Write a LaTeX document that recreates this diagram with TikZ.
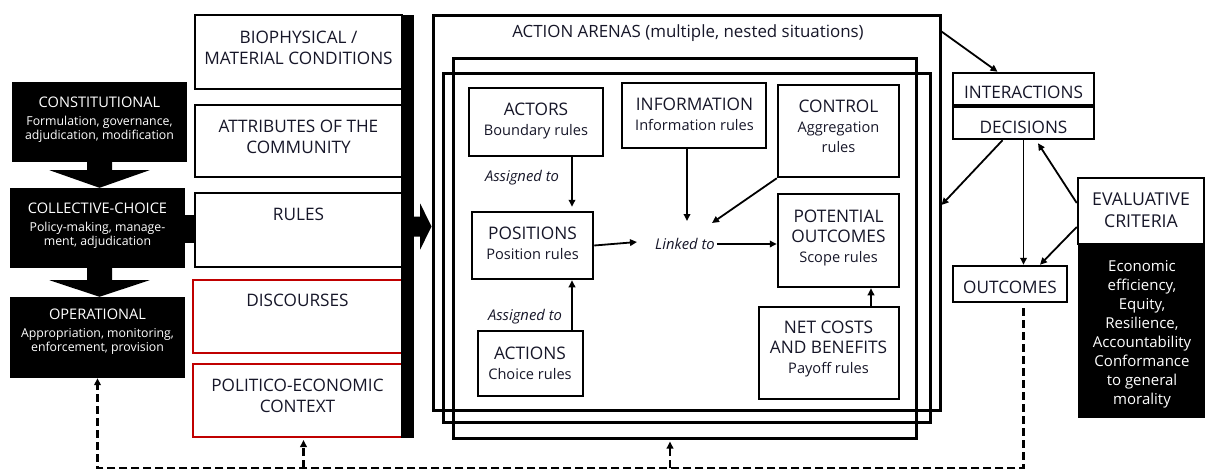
\documentclass[tikz,border=0pt]{standalone}
\usepackage{fontspec}
\setmainfont{Open Sans}
\usetikzlibrary{arrows.meta,calc}
\definecolor{ink}{RGB}{22,22,40}
\definecolor{redline}{RGB}{192,0,0}
\newcommand\tierhd{\fontsize{14.6}{18}\selectfont}
\newcommand\boxhd{\fontsize{17.3}{20}\selectfont}
\begin{document}
\begin{tikzpicture}[x=1pt,y=-1pt,
  tier/.style={fill=black, inner sep=0pt},
  tiertext/.style={text=white, align=center, inner sep=0pt, font=\fontsize{12.3}{14.5}\selectfont},
  box/.style={draw=black, line width=2.5pt, inner sep=0pt},
  redbox/.style={draw=redline, line width=2pt, inner sep=0pt},
  arenabox/.style={draw=black, line width=3pt, inner sep=0pt},
  coltext/.style={text=ink, align=center, inner sep=0pt, font=\fontsize{17.2}{21}\selectfont},
  boxtext/.style={text=ink, align=center, inner sep=0pt, font=\fontsize{14.6}{20}\selectfont},
  tag/.style={text=ink, inner sep=2pt, font=\fontsize{14.8}{17}\selectfont\itshape},
  arr/.style={line width=1.8pt, -{Triangle[length=7pt,width=6.5pt]}},
  fbdash/.style={line width=2.2pt, dash pattern=on 8pt off 4pt}
]
\useasboundingbox (0,0) rectangle (1205,471);

% ---- rule tiers on the left ----
\node[tier, minimum width=175pt, minimum height=80pt] (const) at (99.5,122) {};
\node[tiertext] (constT) at (99.5,120) {{\tierhd CONSTITUTIONAL}\\[3pt]Formulation, governance,\\adjudication, modification};
\node[tier, minimum width=175pt, minimum height=80pt] (coll) at (97.5,228) {};
\node[tiertext] (collT) at (97.5,226) {{\tierhd COLLECTIVE-CHOICE}\\[3pt]Policy-making, manage-\\ment, adjudication};
\node[tier, minimum width=175pt, minimum height=81pt] (oper) at (97.5,337.5) {};
\node[tiertext] (operT) at (97.5,332) {{\tierhd OPERATIONAL}\\[3pt]Appropriation, monitoring,\\enforcement, provision};

% block arrows between tiers
\fill ($(const.south)+(-12.5,-1)$) -- ($(const.south)+(-12.5,8)$) -- ($(const.south)+(-50,8)$)
  -- (const.south |- coll.north) -- ($(const.south)+(50,8)$) -- ($(const.south)+(12.5,8)$)
  -- ($(const.south)+(12.5,-1)$) -- cycle;
\fill ($(coll.south)+(-10.5,-1)$) -- ($(coll.south)+(-10.5,12)$) -- ($(coll.south)+(-48,12)$)
  -- ($(coll.south |- oper.north)+(2,0)$) -- ($(coll.south)+(52,12)$) -- ($(coll.south)+(14.5,12)$)
  -- ($(coll.south)+(14.5,-1)$) -- cycle;

% ---- context column ----
\node[box, minimum width=207pt, minimum height=74pt] (bio) at (298.5,52) {};
\node[coltext] (bioT) at (298.5,48) {BIOPHYSICAL /\\MATERIAL CONDITIONS};
\node[box, minimum width=207pt, minimum height=72pt] (attr) at (298.5,141) {};
\node[coltext] (attrT) at (298.5,137) {ATTRIBUTES OF THE\\COMMUNITY};
\node[box, minimum width=207pt, minimum height=74pt] (rules) at (298.5,230) {};
\node[coltext] (rulesT) at (298.5,214) {RULES};
\node[redbox, minimum width=209pt, minimum height=73pt] (disc) at (297.5,316.5) {};
\node[coltext] (discT) at (297.5,300) {DISCOURSES};
\node[redbox, minimum width=209pt, minimum height=73pt] (pol) at (297.5,400.5) {};
\node[coltext] (polT) at (297.5,396) {POLITICO-ECONOMIC\\CONTEXT};

% collective-choice feeds the rules
\draw[line width=28pt] ($(coll.east)+(-1,1)$) -- ($(coll.east -| rules.west)+(1,1)$);

% black bar collecting the context
\node[fill=black, inner sep=0pt, minimum width=13pt, minimum height=423pt] (bar) at (407.5,226.5) {};

% ---- action arenas ----
\node[arenabox, minimum width=507pt, minimum height=395pt] (arena1) at (686.5,212.5) {};
\node[arenabox, minimum width=487pt, minimum height=349pt] (arena2) at (686.5,247.5) {};
\node[arenabox, minimum width=463pt, minimum height=380pt] (arena3) at (684.5,248) {};
\node[text=ink, inner sep=0pt, font=\fontsize{16.9}{18}\selectfont] (arenaT) at (688,33) {ACTION ARENAS (multiple, nested situations)};

% bar pushes into the arenas
\fill ($(bar.east)+(-1,-10)$) -- ($(bar.east)+(6,-10)$) -- ($(bar.east)+(6,-23)$)
  -- (bar.east -| arena1.west) -- ($(bar.east)+(6,23)$) -- ($(bar.east)+(6,10)$)
  -- ($(bar.east)+(-1,10)$) -- cycle;

% working parts
\node[box, minimum width=134pt, minimum height=68pt] (actors) at (536,122) {};
\node[boxtext] (actorsT) at (536,121) {{\boxhd ACTORS}\\Boundary  rules};
\node[box, minimum width=144pt, minimum height=65pt] (info) at (694,115.5) {};
\node[boxtext] (infoT) at (694.5,114) {{\boxhd INFORMATION}\\Information rules};
\node[box, minimum width=121pt, minimum height=92pt] (control) at (838.5,131) {};
\node[boxtext] (controlT) at (838.5,126) {{\boxhd CONTROL}\\Aggregation\\rules};
\node[box, minimum width=121pt, minimum height=93pt] (potential) at (838.5,240.5) {};
\node[boxtext] (potentialT) at (838.5,237.5) {{\boxhd POTENTIAL}\\{\boxhd OUTCOMES}\\Scope rules};
\node[box, minimum width=121pt, minimum height=67pt] (positions) at (532.5,245.5) {};
\node[boxtext] (positionsT) at (532.5,243) {{\boxhd POSITIONS}\\Position rules};
\node[box, minimum width=105pt, minimum height=65pt] (actions) at (530.5,363.5) {};
\node[boxtext] (actionsT) at (530,363) {{\boxhd ACTIONS}\\Choice rules};
\node[box, minimum width=140pt, minimum height=92pt] (netcost) at (829,353) {};
\node[boxtext] (netcostT) at (828.5,349) {{\boxhd NET COSTS}\\{\boxhd AND BENEFITS}\\Payoff rules};

\node[tag] (asg1) at (522,178) {Assigned to};
\node[tag] (asg2) at (525,317) {Assigned to};
\node[tag] (linked) at (685,244) {Linked to};
\coordinate (lkTop) at (687,221);
\coordinate (lkTR) at (712,223);
\coordinate (lkL) at (637,242);

\draw[arr] ($(actors.south)+(36,0)$) -- ($(actors.south |- positions.north)+(36,-4)$);
\draw[arr] ($(actions.north)+(41.5,0)$) -- ($(actions.north |- positions.south)+(41.5,0)$);
\draw[arr] (info.south -| lkTop) -- (lkTop);
\draw[arr] (control.south west) -- (lkTR);
\draw[arr] (positions.east) -- (lkL);
\draw[arr] (linked.east) -- (linked.east -| potential.west);
\draw[arr] ($(netcost.north)+(42,0)$) -- ($(netcost.north |- potential.south)+(42,0)$);

% ---- results and evaluation ----
\node[box, minimum width=141pt, minimum height=32pt] (inter) at (1023.5,89) {};
\node[coltext] (interT) at (1023.5,92.5) {INTERACTIONS};
\node[box, minimum width=141pt, minimum height=32pt] (dec) at (1023.5,123) {};
\node[coltext] (decT) at (1023.5,127.5) {DECISIONS};
\node[box, minimum width=114pt, minimum height=36pt] (outcomes) at (1010,284) {};
\node[coltext] (outcomesT) at (1010,287) {OUTCOMES};
\node[box, minimum width=126pt, minimum height=66pt] (eval) at (1141,211) {};
\node[coltext, font=\fontsize{17.7}{22}\selectfont] (evalT) at (1141,210.5) {EVALUATIVE\\CRITERIA};
\node[fill=black, inner sep=0pt, minimum width=127pt, minimum height=174pt] (evalblk) at (1141.5,331) {};
\node[text=white, align=center, inner sep=0pt, font=\fontsize{15}{19}\selectfont] (evalblkT) at (1142,334)
  {Economic\\efficiency,\\Equity,\\Resilience,\\Accountability\\Conformance\\to general\\morality};

\draw[arr] ($(arena1.north east)+(0,18)$) -- ($(inter.north)+(-26,0)$);
\draw[arr] ($(dec.south)+(-21,0)$) -- ($(arena1.east)+(0,-7.5)$);
\draw[arr] (dec.south) -- (dec.south |- outcomes.north);
\draw[arr] ($(eval.west)+(0,-8)$) -- ($(dec.south)+(14.5,3)$);
\draw[arr] ($(eval.west)+(0,16)$) -- ($(outcomes.north)+(30,0)$);

% ---- feedback from outcomes ----
\coordinate (fb) at (0,468);
\draw[fbdash, -{Triangle[length=7pt,width=6.5pt]}] ($(outcomes.south -| dec.south)+(0,5)$) -- (dec.south |- fb)
  -- (oper.south |- fb) -- (oper.south);
\draw[fbdash, -{Triangle[length=7pt,width=6.5pt]}] ($(pol.south |- fb)+(6,0)$) -- ($(pol.south)+(6,2)$);
\draw[fbdash, -{Triangle[length=7pt,width=6.5pt]}] ($(arena3.south |- fb)+(-14.5,0)$) -- ($(arena3.south)+(-14.5,2)$);
\end{tikzpicture}
\end{document}
